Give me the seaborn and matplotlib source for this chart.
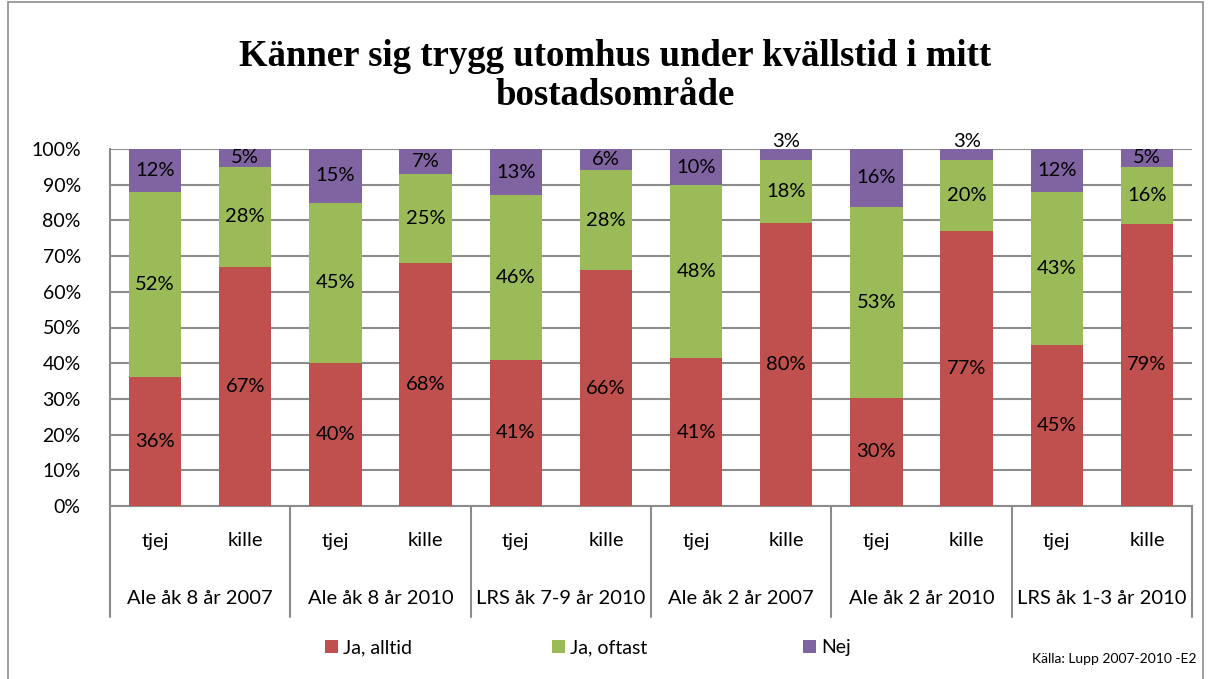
import numpy as np
import pandas as pd
import matplotlib
matplotlib.use("Agg")
import matplotlib.pyplot as plt
import seaborn as sns
from matplotlib.patches import Patch, Rectangle
from matplotlib.lines import Line2D

# ---------------- data ----------------
groups = ["Ale åk 8 år 2007", "Ale åk 8 år 2010", "LRS åk 7-9 år 2010",
          "Ale åk 2 år 2007", "Ale åk 2 år 2010", "LRS åk 1-3 år 2010"]
sexes = ["tjej", "kille"]
series = ["Ja, alltid", "Ja, oftast", "Nej"]
ja_alltid = [36, 67, 40, 68, 41, 66, 41, 80, 30, 77, 45, 79]
ja_oftast = [52, 28, 45, 25, 46, 28, 48, 18, 53, 20, 43, 16]
nej       = [12, 5, 15, 7, 13, 6, 10, 3, 16, 3, 12, 5]
source = "Källa: Lupp 2007-2010 -E2"
title = "Känner sig trygg utomhus under kvällstid i mitt\nbostadsområde"

colors = {"Ja, alltid": "#C0504D", "Ja, oftast": "#9BBB59", "Nej": "#8064A2"}

# ---------------- build table ----------------
keys = [f"{g}|{s}" for g in groups for s in sexes]
df = pd.DataFrame({"key": keys,
                   "Ja, alltid": ja_alltid,
                   "Ja, oftast": ja_oftast,
                   "Nej": nej})
tot = df[series].sum(axis=1)
df["c1"] = df["Ja, alltid"] / tot * 100
df["c2"] = (df["Ja, alltid"] + df["Ja, oftast"]) / tot * 100
df["c3"] = 100.0

sns.set_theme(style="white")
plt.rcParams["font.family"] = ["Lato", "DejaVu Sans"]
plt.rcParams["text.color"] = "black"
plt.rcParams["legend.labelcolor"] = "black"

fig = plt.figure(figsize=(12.08, 6.79), dpi=100)
ax = fig.add_axes([110/1208, 1-506/679, (1192-110)/1208, (506-149)/679])

bw = 0.58
for col, name in [("c3", "Nej"), ("c2", "Ja, oftast"), ("c1", "Ja, alltid")]:
    sns.barplot(data=df, x="key", y=col, order=keys, color=colors[name],
                width=bw, saturation=1, ax=ax, zorder=3, edgecolor="none")

ax.set_xlim(-0.5, len(keys) - 0.5)
ax.set_ylim(0, 100)
ax.set_yticks(np.arange(0, 101, 10))
ax.set_yticklabels([f"{v}%" for v in range(0, 101, 10)], fontsize=14, color="black")
ax.yaxis.grid(True, color="#8C8C8C", linewidth=1.5, zorder=0)
ax.set_axisbelow(True)
ax.tick_params(axis="y", length=0, pad=21)
ax.set_xticks([])
ax.set_xlabel("")
ax.set_ylabel("")
for sp in ["top", "right"]:
    ax.spines[sp].set_visible(False)
ax.spines["left"].set_color("#8C8C8C")
ax.spines["left"].set_linewidth(1.5)
ax.spines["bottom"].set_color("#8C8C8C")
ax.spines["bottom"].set_linewidth(1.5)

# segment labels
for i in range(len(keys)):
    bottoms = [0, df["c1"][i], df["c2"][i]]
    tops = [df["c1"][i], df["c2"][i], 100]
    vals = [ja_alltid[i], ja_oftast[i], nej[i]]
    for b, t, v in zip(bottoms, tops, vals):
        yc = (b + t) / 2
        if t - b < 4:
            yc = 102.0
        ax.text(i, yc, f"{v}%", ha="center", va="center", fontsize=14.5,
                color="black", zorder=5, clip_on=False)

# multi-level category axis
trans = ax.get_xaxis_transform()
y_sex = -(541 - 506) / (506 - 149)
y_grp = -(598 - 506) / (506 - 149)
y_end = -(617 - 506) / (506 - 149)
for i, k in enumerate(keys):
    ax.text(i, y_sex, k.split("|")[1], transform=trans, ha="center",
            va="center", fontsize=14.5, color="black")
for gi, g in enumerate(groups):
    ax.text(gi * 2 + 0.5, y_grp, g, transform=trans, ha="center",
            va="center", fontsize=14.5, color="black")
for gi in range(len(groups) + 1):
    x = gi * 2 - 0.5
    ax.add_line(Line2D([x, x], [0, y_end], transform=trans, color="#8C8C8C",
                       linewidth=1.5, clip_on=False))

# title
fig.text(615/1208, 1 - 76/679, title, ha="center", va="center",
         fontsize=26.5, fontweight="bold", family="Liberation Serif",
         linespacing=1.15, color="black")

# legend entries
leg_x = [325/1208, 552/1208, 803/1208]
for name, lx in zip(series, leg_x):
    h = Patch(facecolor=colors[name], edgecolor="none", label=name)
    fig.legend(handles=[h], loc="center left", bbox_to_anchor=(lx, 1 - 648/679),
               frameon=False, fontsize=14, handlelength=0.65, handleheight=0.65,
               handletextpad=0.3, borderpad=0, borderaxespad=0)

fig.text(1197/1208, 1 - 659/679, source, ha="right", va="center", fontsize=10,
         color="black")

# chart frame
fig.patches.append(Rectangle((8/1208, -0.02), (1203 - 8)/1208, 1.02 - 2/679,
                             transform=fig.transFigure, fill=False,
                             edgecolor="#8C8C8C", linewidth=1.2))

fig.savefig("out.png", dpi=100)
